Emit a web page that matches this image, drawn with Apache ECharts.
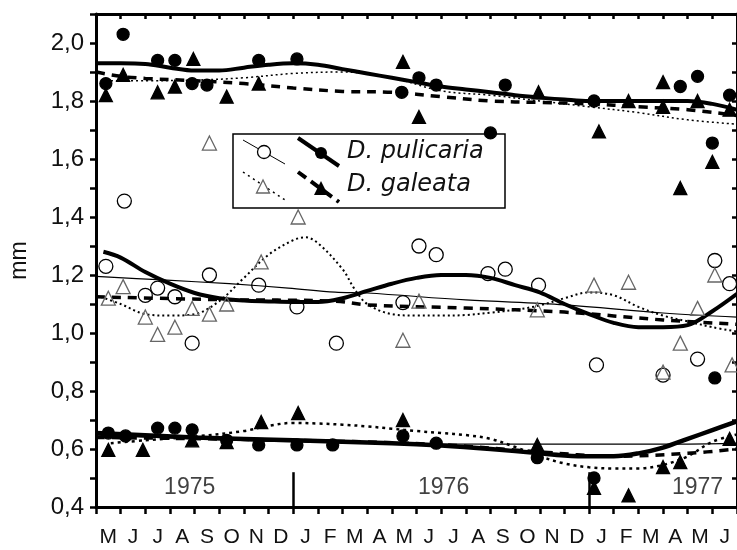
<!DOCTYPE html>
<html>
<head>
<meta charset="utf-8">
<script src="https://cdn.jsdelivr.net/npm/echarts@6/dist/echarts.min.js"></script>
<style>
  html, body { margin: 0; padding: 0; background: #fff; }
  #chart { width: 737px; height: 550px; }
</style>
</head>
<body>
<div id="chart"></div>
<script>
// months from May 1975 to June 1977
const monthLabels = ['M', 'J', 'J', 'A', 'S', 'O', 'N', 'D', 'J', 'F', 'M', 'A', 'M',
  'J', 'J', 'A', 'S', 'O', 'N', 'D', 'J', 'F', 'M', 'A', 'M', 'J']
const yTickLabels = ['0,4', '0,6', '0,8', '1,0', '1,2', '1,4', '1,6', '1,8', '2,0']
const yearLabels = ['1975', '1976', '1977']
const yearMonth = [3.8, 14.1, 24.4]
const yearBreaks = [8, 20]

// [month since 1 May 1975, mm]
const pulLarge = [[0.4, 1.86], [1.1, 2.03], [2.5, 1.94], [3.2, 1.94], [3.9, 1.86], [4.5, 1.855],
  [6.6, 1.94], [8.15, 1.945], [12.4, 1.83], [13.1, 1.88], [13.8, 1.855], [16.0, 1.69],
  [16.6, 1.855], [20.2, 1.80], [23.7, 1.85], [24.4, 1.885], [25.0, 1.655], [25.7, 1.82]]
const galLarge = [[0.4, 1.82], [1.1, 1.89], [2.5, 1.83], [3.2, 1.85], [3.95, 1.945], [5.3, 1.815],
  [6.6, 1.86], [12.45, 1.935], [13.1, 1.745], [17.95, 1.83], [20.4, 1.695], [21.6, 1.80],
  [23.0, 1.865], [23.0, 1.78], [23.7, 1.50], [24.4, 1.80], [25.0, 1.59], [25.7, 1.77]]
const pulMid = [[0.4, 1.23], [1.15, 1.455], [2.0, 1.13], [2.5, 1.155], [3.2, 1.125], [3.9, 0.965],
  [4.6, 1.20], [6.6, 1.165], [8.15, 1.09], [9.75, 0.965], [12.45, 1.105], [13.1, 1.30],
  [13.8, 1.27], [15.9, 1.205], [16.6, 1.22], [17.95, 1.165], [20.3, 0.89], [23.0, 0.855],
  [24.4, 0.91], [25.1, 1.25], [25.7, 1.17]]
const galMid = [[0.5, 1.12], [1.1, 1.16], [2.0, 1.055], [2.5, 0.995], [3.2, 1.02], [3.9, 1.085],
  [4.6, 1.065], [5.3, 1.10], [4.6, 1.655], [6.7, 1.245], [8.2, 1.40], [12.45, 0.975],
  [13.1, 1.11], [17.9, 1.08], [20.2, 1.165], [21.6, 1.175], [23.0, 0.865], [23.7, 0.965],
  [24.4, 1.085], [25.1, 1.20], [25.8, 0.89]]
const pulSmall = [[0.5, 0.655], [1.2, 0.645], [2.5, 0.672], [3.2, 0.672], [3.9, 0.666], [5.3, 0.63],
  [6.6, 0.614], [8.15, 0.614], [9.6, 0.614], [12.45, 0.645], [13.8, 0.62], [17.9, 0.57],
  [20.2, 0.50], [25.1, 0.845]]
const galSmall = [[0.5, 0.597], [1.9, 0.597], [3.9, 0.63], [5.3, 0.624], [6.7, 0.693], [8.2, 0.724],
  [12.45, 0.70], [17.9, 0.614], [20.2, 0.466], [21.6, 0.44], [23.0, 0.538], [23.7, 0.555],
  [25.7, 0.635]]

// fitted curves
const pulLargeFit = [[0, 1.93], [1, 1.93], [2, 1.928], [3, 1.915], [4, 1.905], [5, 1.905], [6, 1.915],
  [7, 1.925], [8, 1.93], [9, 1.925], [10, 1.91], [11, 1.895], [12, 1.88], [13, 1.865], [14, 1.85],
  [15, 1.84], [16, 1.83], [17, 1.82], [18, 1.812], [19, 1.805], [20, 1.80], [22, 1.80], [24, 1.80],
  [25, 1.79], [26, 1.77]]
const galLargeFit = [[0, 1.90], [1, 1.885], [2, 1.878], [4, 1.87], [6, 1.86], [8, 1.845], [10, 1.833],
  [12, 1.83], [14, 1.815], [16, 1.80], [18, 1.795], [20, 1.79], [22, 1.78], [24, 1.77], [26, 1.75]]
const galLargeDot = [[0, 1.87], [2, 1.87], [4, 1.872], [6, 1.88], [8, 1.895], [10, 1.90], [12, 1.88],
  [14, 1.835], [16, 1.82], [18, 1.80], [20, 1.78], [22, 1.76], [24, 1.735], [26, 1.72]]
const pulMidFit = [[0.3, 1.28], [1, 1.26], [2, 1.21], [3, 1.17], [4, 1.138], [5, 1.12], [6, 1.112],
  [7, 1.109], [8, 1.107], [9, 1.107], [10, 1.12], [11, 1.145], [12, 1.17], [13, 1.19], [14, 1.20],
  [15, 1.20], [16, 1.19], [17, 1.165], [18, 1.14], [19, 1.10], [20, 1.065], [21, 1.035],
  [22, 1.02], [23, 1.02], [24, 1.027], [25, 1.075], [26, 1.135]]
const pulMidThin = [[0, 1.195], [2.7, 1.183], [5.4, 1.17], [7.8, 1.155], [9.7, 1.141], [11, 1.138],
  [15, 1.114], [19, 1.097], [23, 1.069], [26, 1.055]]
const galMidFit = [[0, 1.125], [5, 1.115], [9.7, 1.11], [11, 1.097], [15, 1.086], [19, 1.072],
  [23, 1.045], [26, 1.03]]
const galMidDot = [[0, 1.13], [1, 1.10], [2, 1.065], [3, 1.06], [4, 1.065], [5, 1.11], [6, 1.19],
  [7, 1.27], [8, 1.32], [8.5, 1.33], [9, 1.31], [10, 1.22], [10.5, 1.15], [11, 1.10], [12, 1.065],
  [13, 1.06], [14, 1.06], [15, 1.062], [16, 1.07], [17, 1.08], [18, 1.095], [19, 1.12], [20, 1.14],
  [21, 1.13], [22, 1.09], [23, 1.06], [24, 1.04], [25, 1.02], [26, 1.005]]
const pulSmallFit = [[0, 0.655], [4, 0.64], [8, 0.63], [12, 0.62], [14, 0.612], [16, 0.60],
  [18, 0.585], [19, 0.578], [20, 0.575], [21, 0.575], [22, 0.585], [23, 0.605], [24, 0.635],
  [25, 0.665], [26, 0.695]]
const pulSmallThin = [[0, 0.648], [8, 0.625], [16, 0.617], [24, 0.617], [26, 0.62]]
const galSmallFit = [[0, 0.64], [8, 0.63], [14, 0.615], [18, 0.59], [21, 0.575], [24, 0.585], [26, 0.60]]
const galSmallDot = [[0.6, 0.62], [2, 0.63], [4, 0.643], [6, 0.662], [7, 0.68], [8, 0.69], [9, 0.688],
  [10, 0.684], [11, 0.678], [12, 0.67], [13, 0.662], [14, 0.655], [15, 0.648], [16, 0.635],
  [17, 0.607], [18, 0.575], [19, 0.55], [20, 0.537], [21, 0.533], [22, 0.533], [23, 0.545],
  [24, 0.575], [25, 0.625], [26, 0.65]]

const FONT = 'Liberation Sans'
const chart = echarts.init(document.getElementById('chart'))

const fitLine = (data, width, type) => ({
  type: 'line',
  xAxisIndex: 2,
  data: data,
  smooth: 0.35,
  showSymbol: false,
  silent: true,
  lineStyle: { color: '#000', width: width, type: type },
  z: 2
})

const dots = (data, symbol, size, fill, stroke) => ({
  type: 'scatter',
  xAxisIndex: 2,
  data: data,
  symbol: symbol,
  symbolSize: size,
  itemStyle: { color: fill, borderColor: stroke, borderWidth: 1.3, opacity: 1 },
  z: 3
})

const hollow = 'rgba(255,255,255,0)'

const option = {
  animation: false,
  backgroundColor: '#fff',
  grid: { left: 90, right: 0, top: 14, bottom: 43 },
  xAxis: [
    {
      type: 'category',
      data: monthLabels,
      boundaryGap: true,
      position: 'bottom',
      axisLine: { lineStyle: { color: '#000', width: 3 } },
      axisTick: { show: true, interval: 0, inside: false, length: 7, lineStyle: { width: 2.5 } },
      axisLabel: { interval: 0, margin: 20, fontFamily: FONT, fontSize: 21, color: '#111' },
      splitLine: { show: false }
    },
    {
      type: 'category',
      data: monthLabels,
      boundaryGap: true,
      position: 'top',
      axisLine: { lineStyle: { color: '#000', width: 3 } },
      axisTick: { show: true, interval: 0, inside: true, length: 5, lineStyle: { width: 2.5 } },
      axisLabel: { show: false },
      splitLine: { show: false }
    },
    { type: 'value', min: 0, max: 26, show: false }
  ],
  yAxis: [
    {
      type: 'value',
      min: 0.4,
      max: 2.1,
      interval: 0.1,
      name: 'mm',
      nameLocation: 'middle',
      nameGap: 65,
      nameTextStyle: { fontFamily: FONT, fontSize: 23, color: '#111' },
      axisLine: { show: true, lineStyle: { color: '#000', width: 3 } },
      axisTick: { show: true, inside: false, length: 6, lineStyle: { width: 2.5 } },
      axisLabel: {
        margin: 12,
        fontFamily: FONT,
        fontSize: 24,
        color: '#111',
        formatter: v => {
          const k = Math.round((v - 0.4) * 10)
          return k % 2 === 0 ? (yTickLabels[k / 2] || '') : ''
        }
      },
      splitLine: { show: false }
    },
    {
      type: 'value',
      min: 0.4,
      max: 2.1,
      interval: 0.1,
      position: 'right',
      axisLine: { show: true, lineStyle: { color: '#000', width: 3 } },
      axisTick: { show: true, inside: true, length: 5, lineStyle: { width: 2.5 } },
      axisLabel: { show: false },
      splitLine: { show: false }
    }
  ],
  series: [
    fitLine(pulLargeFit, 4, 'solid'),
    fitLine(galLargeFit, 3.5, [9, 7]),
    fitLine(galLargeDot, 1.5, [2, 3]),
    fitLine(pulMidFit, 4, 'solid'),
    fitLine(pulMidThin, 1.2, 'solid'),
    fitLine(galMidFit, 3.5, [9, 7]),
    fitLine(galMidDot, 2, [2, 3]),
    fitLine(pulSmallFit, 4.5, 'solid'),
    fitLine(pulSmallThin, 1.2, 'solid'),
    fitLine(galSmallFit, 3.5, [9, 7]),
    fitLine(galSmallDot, 2.5, [3, 4]),
    dots(pulLarge, 'circle', 12, '#000', '#000'),
    dots(galLarge, 'triangle', 13, '#000', '#000'),
    dots(pulMid, 'circle', 14, hollow, '#000'),
    dots(galMid, 'triangle', 14, hollow, '#666'),
    dots(pulSmall, 'circle', 12, '#000', '#000'),
    dots(galSmall, 'triangle', 13, '#000', '#000'),
    {
      type: 'scatter',
      xAxisIndex: 2,
      silent: true,
      symbolSize: 1,
      itemStyle: { color: 'rgba(0,0,0,0)' },
      data: yearLabels.map((t, i) => ({ name: t, value: [yearMonth[i], 0.465] })),
      label: {
        show: true,
        position: 'inside',
        formatter: p => p.name,
        fontFamily: FONT,
        fontSize: 23,
        color: '#111'
      },
      markLine: {
        silent: true,
        symbol: 'none',
        label: { show: false },
        lineStyle: { color: '#000', width: 2.5, type: 'solid' },
        data: yearBreaks.map(m => [{ coord: [m, 0.4] }, { coord: [m, 0.52] }])
      }
    }
  ],
  graphic: [
    {
      type: 'group',
      z: 10,
      children: [
        { type: 'rect', shape: { x: 233, y: 134, width: 272, height: 74 },
          style: { fill: '#fff', stroke: '#000', lineWidth: 1.5 } },
        { type: 'line', shape: { x1: 243, y1: 140, x2: 285, y2: 164 },
          style: { stroke: '#000', lineWidth: 1 } },
        { type: 'circle', shape: { cx: 264, cy: 152, r: 6.5 },
          style: { fill: '#fff', stroke: '#000', lineWidth: 1.3 } },
        { type: 'line', shape: { x1: 298, y1: 138, x2: 339, y2: 166 },
          style: { stroke: '#000', lineWidth: 4 } },
        { type: 'circle', shape: { cx: 321, cy: 153, r: 6 },
          style: { fill: '#000' } },
        { type: 'text', left: 347, top: 140,
          style: { text: 'D. pulicaria', font: 'italic 24px "DejaVu Sans"', fill: '#111' } },
        { type: 'line', shape: { x1: 243, y1: 172, x2: 285, y2: 200 },
          style: { stroke: '#000', lineWidth: 1.5, lineDash: [2, 4] } },
        { type: 'polygon', shape: { points: [[263, 180], [256.5, 193], [269.5, 193]] },
          style: { fill: '#fff', stroke: '#666', lineWidth: 1.3 } },
        { type: 'line', shape: { x1: 298, y1: 172, x2: 339, y2: 202 },
          style: { stroke: '#000', lineWidth: 4, lineDash: [10, 6] } },
        { type: 'polygon', shape: { points: [[321, 181], [314, 195], [328, 195]] },
          style: { fill: '#000' } },
        { type: 'text', left: 347, top: 173,
          style: { text: 'D. galeata', font: 'italic 24px "DejaVu Sans"', fill: '#111' } }
      ]
    }
  ]
}

chart.setOption(option)
</script>
</body>
</html>
